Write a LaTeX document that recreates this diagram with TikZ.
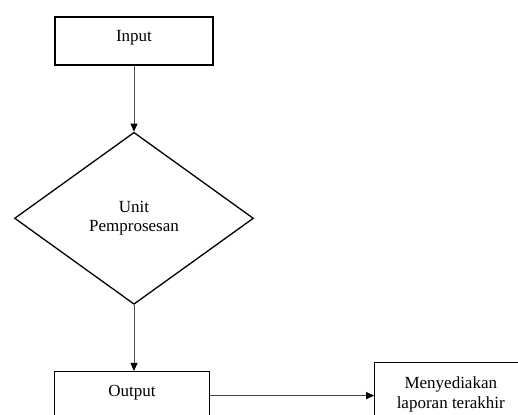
\documentclass[tikz,border=0pt]{standalone}
\usepackage{fontspec}
\setmainfont{Liberation Serif}
\usetikzlibrary{arrows.meta,positioning,shapes.geometric}

\begin{document}
\begin{tikzpicture}[every node/.style={draw,shape=rectangle,line width=1.3pt,
      font=\fontsize{17pt}{19.5pt}\selectfont},
    flow/.style={-{Triangle[length=8pt,width=7pt,color=black]},line width=0.8pt,draw=black!70}]
      \clip (0,0) rectangle (518pt,-414pt);
      \node[minimum width=158pt, minimum height=48pt, text height=12pt, text depth=10pt]
        (input) at (134pt,-41pt) {Input};
      \node[shape=diamond, below=66pt of input, minimum width=239pt, minimum height=172pt,
          inner sep=0pt, align=center] (proses) {Unit\\Pemprosesan};
      \node[below=66pt of proses, xshift=-2pt, minimum width=155pt, minimum height=48pt,
          text height=12pt, text depth=10pt] (output) {Output};
      \node[right=164pt of output, yshift=1pt, minimum width=152pt, minimum height=64pt,
          align=center] (laporan) {Menyediakan\\laporan terakhir};

      \draw[flow] (input) -- (proses);
      \draw[flow] (proses.south) -- (proses.south |- output.north);
      \draw[flow] (output) -- (output -| laporan.west);
    \end{tikzpicture}
\end{document}
